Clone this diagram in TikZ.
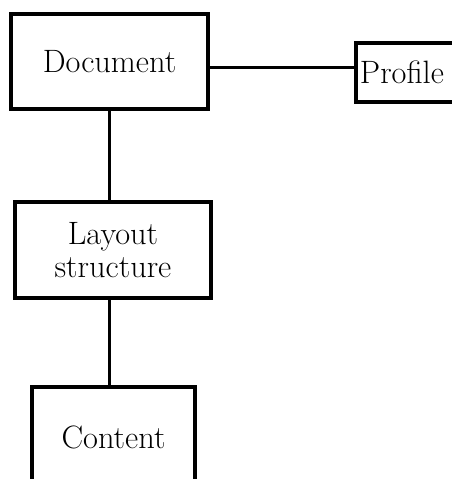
\documentclass[tikz,border=0pt]{standalone}
\usepackage{tikz}
\usetikzlibrary{positioning,calc}
\tikzset{
	box/.style={
		rectangle,
		draw=black,
		line width=2.8pt,
		fill=white,
		font=\fontsize{23}{23.5}\selectfont,
		align=center,
		inner sep=0pt,
	},
	link/.style={
		draw=black,
		line width=2.8pt,
	},
}
\begin{document}
\begin{tikzpicture}[x=0.025cm,y=-0.025cm]
		\useasboundingbox (0,0) rectangle (452,479);
		
		\node [box,minimum width=4.925cm,minimum height=2.375cm] (Doc) at (109.5,61.5) {Document};
		\node [box,draw=none,anchor=west,inner xsep=0.05cm,minimum height=1.375cm] (Prof) at (356,72.5) {\makebox[3.6cm][l]{Profile}};
		\node [box,minimum width=4.9cm,minimum height=2.4cm] (Lay) at (113,250) {Layout\\structure};
		\node [box,minimum width=4.075cm,minimum height=2.5cm] (Cont) at (113.5,437) {Content};
		
		% the profile box runs off the page
		\draw[link] (Prof.north east) -- (Prof.north west) -- (Prof.south west) -- (Prof.south east);
		
		\draw[link] ([yshift=-0.15cm]Doc.east) -- ([yshift=-0.15cm]Doc.east -| Prof.west);
		\draw[link] (Doc.south) -- (Doc.south |- Lay.north);
		\draw[link] (Doc.south |- Lay.south) -- (Doc.south |- Cont.north);
	\end{tikzpicture}
\end{document}
